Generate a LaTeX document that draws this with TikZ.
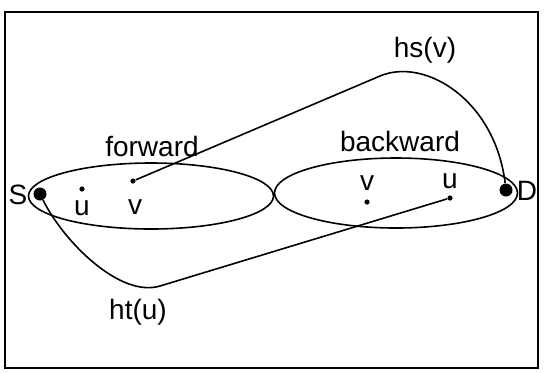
\documentclass[tikz,border=0pt]{standalone}
\usepackage{fontspec}
\setmainfont{Liberation Sans}
\usepackage{tikz}
\usetikzlibrary{positioning,shapes}
\tikzstyle{region}=[ellipse, draw=black, line width=0.8pt, inner sep=0pt]
\tikzstyle{bigdot}=[circle, fill=black, inner sep=0pt, minimum size=6.5pt]
\tikzstyle{smalldot}=[circle, fill=black, inner sep=0pt, minimum size=2.6pt]
\tikzstyle{lbl}=[inner sep=1pt, font=\fontsize{14}{16}\selectfont]
\tikzstyle{route}=[line width=0.8pt]

\begin{document}
\begin{tikzpicture}[x=0.5pt, y=-0.5pt]
            \useasboundingbox (0,0) rectangle (547,372);
            \draw[line width=1pt] (5,12) rectangle (538,368);
            % the two searches
            \node (fwd)[region, minimum width=122.5pt, minimum height=33pt] at (151,196) {};
            \node (bwd)[region, minimum width=121.5pt, minimum height=35pt] at (396,193) {};
            \node (fwdlbl)[lbl] at (152,146) {forward};
            \node (bwdlbl)[lbl] at (400,141) {backward};
            % source and destination
            \node (S)[bigdot] at (40,194) {};
            \node (D)[bigdot] at (506,190) {};
            \node (Slbl)[lbl] at (18,195) {S};
            \node (Dlbl)[lbl] at (527,191) {D};
            % meeting points
            \node (uL)[smalldot] at (82,189) {};
            \node (vL)[smalldot] at (133,181) {};
            \node (vR)[smalldot] at (367,202) {};
            \node (uR)[smalldot] at (450,198) {};
            \node (uLlbl)[lbl] at (82,208) {u};
            \node (vLlbl)[lbl] at (135,207) {v};
            \node (vRlbl)[lbl] at (367,183) {v};
            \node (uRlbl)[lbl] at (450,181) {u};
            % heuristic estimates
            \coordinate (hstop) at (380,76);
            \coordinate (htlow) at (160,286);
            \draw[route] (vL) -- (hstop) .. controls (425,57) and (495,100) .. (D);
            \draw[route] (S) .. controls (64,242) and (120,298) .. (htlow) -- (uR);
            \node (hslbl)[lbl] at (425,50) {hs(v)};
            \node (htlbl)[lbl] at (138,312) {ht(u)};
\end{tikzpicture}
\end{document}
